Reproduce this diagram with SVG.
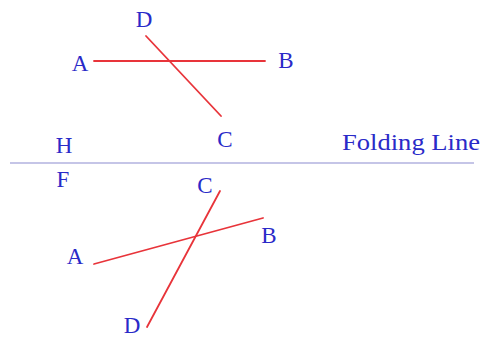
<svg xmlns="http://www.w3.org/2000/svg" width="482" height="337" viewBox="0 0 482 337">
<style>
text{font-size:23px;fill:#2a2ac8;text-anchor:middle}
.seg{stroke:#e8343a;stroke-width:1.8;fill:none;stroke-linecap:round}
.fold{stroke:#8c8cd0;stroke-width:1.2;fill:none}
</style>
<rect width="482" height="337" fill="#ffffff"/>
<g id="connectors">
<line class="fold" x1="10" y1="163" x2="474" y2="163"/>
<line class="seg" x1="94" y1="61" x2="265" y2="61"/>
<line class="seg" x1="146" y1="36" x2="221" y2="116"/>
<line class="seg" x1="94" y1="264" x2="263" y2="218"/>
<line class="seg" x1="220" y1="191" x2="147" y2="327"/>
</g>
<g id="top-labels" font-family="Liberation Serif, serif">
<text x="144" y="27">D</text>
<text x="80" y="71">A</text>
<text x="286" y="68">B</text>
<text x="225" y="147">C</text>
</g>
<g id="plane-labels" font-family="Liberation Serif, serif">
<text x="64" y="153">H</text>
<text x="63" y="187">F</text>
<text x="342" y="150" style="text-anchor:start;font-size:24px" textLength="138" lengthAdjust="spacingAndGlyphs">Folding Line</text>
</g>
<g id="bottom-labels" font-family="Liberation Serif, serif">
<text x="205" y="193">C</text>
<text x="75" y="264">A</text>
<text x="269" y="243">B</text>
<text x="132" y="333">D</text>
</g>
</svg>
